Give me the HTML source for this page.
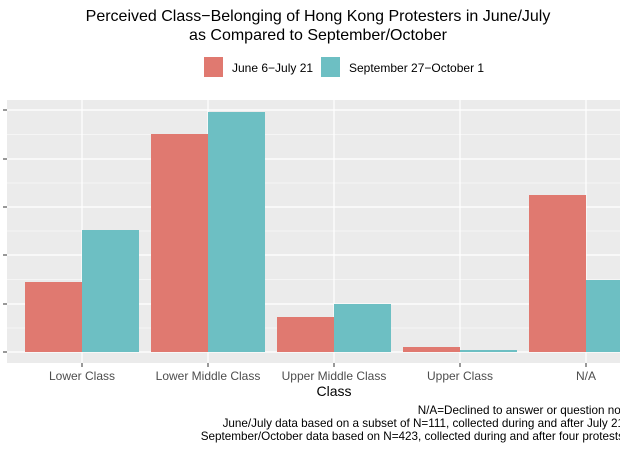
<!DOCTYPE html><html><head><style>body{margin:0;background:#fff}svg text{font-family:"Liberation Sans",Arial,sans-serif}</style></head><body>
<svg width="620" height="450" xmlns="http://www.w3.org/2000/svg">
<rect width="620" height="450" fill="#fff"/>
<text x="318" y="21" font-size="16" text-anchor="middle" fill="#000">Perceived Class−Belonging of Hong Kong Protesters in June/July</text>
<text x="318" y="40" font-size="16" text-anchor="middle" fill="#000">as Compared to September/October</text>
<rect x="204" y="57" width="19" height="20" fill="#e07970"/>
<text x="232" y="72" font-size="12">June 6−July 21</text>
<rect x="321" y="57" width="19" height="20" fill="#6dbfc3"/>
<text x="349" y="72" font-size="12">September 27−October 1</text>
<rect x="7" y="100" width="620" height="263" fill="#ebebeb"/>
<g stroke="#fff" stroke-width="0.6">
<line x1="7" x2="620" y1="134.5" y2="134.5"/><line x1="7" x2="620" y1="183" y2="183"/><line x1="7" x2="620" y1="231" y2="231"/><line x1="7" x2="620" y1="279.5" y2="279.5"/><line x1="7" x2="620" y1="328" y2="328"/>
</g>
<g stroke="#fff" stroke-width="1.2">
<line x1="7" x2="620" y1="110" y2="110"/><line x1="7" x2="620" y1="159" y2="159"/><line x1="7" x2="620" y1="207" y2="207"/><line x1="7" x2="620" y1="255" y2="255"/><line x1="7" x2="620" y1="304" y2="304"/><line x1="7" x2="620" y1="352" y2="352"/>
<line x1="82" x2="82" y1="100" y2="363"/><line x1="208" x2="208" y1="100" y2="363"/><line x1="334" x2="334" y1="100" y2="363"/><line x1="460" x2="460" y1="100" y2="363"/><line x1="586" x2="586" y1="100" y2="363"/>
</g>
<g fill="#e07970">
<rect x="25" y="282" width="57" height="70"/><rect x="151" y="134" width="57" height="218"/><rect x="277" y="317" width="57" height="35"/><rect x="403" y="347" width="57" height="5"/><rect x="529" y="195" width="57" height="157"/>
</g>
<g fill="#6dbfc3">
<rect x="82" y="230" width="57" height="122"/><rect x="208" y="112" width="57" height="240"/><rect x="334" y="304" width="57" height="48"/><rect x="460" y="350" width="57" height="2"/><rect x="586" y="280" width="57" height="72"/>
</g>
<g stroke="#333" stroke-width="1">
<line x1="3" x2="7" y1="110" y2="110"/><line x1="3" x2="7" y1="159" y2="159"/><line x1="3" x2="7" y1="207" y2="207"/><line x1="3" x2="7" y1="255" y2="255"/><line x1="3" x2="7" y1="304" y2="304"/><line x1="3" x2="7" y1="352" y2="352"/>
<line x1="82" x2="82" y1="363" y2="367"/><line x1="208" x2="208" y1="363" y2="367"/><line x1="334" x2="334" y1="363" y2="367"/><line x1="460" x2="460" y1="363" y2="367"/><line x1="586" x2="586" y1="363" y2="367"/>
</g>
<g font-size="12" fill="#4d4d4d" text-anchor="middle">
<text x="82" y="380">Lower Class</text><text x="208" y="380">Lower Middle Class</text><text x="334" y="380">Upper Middle Class</text><text x="460" y="380">Upper Class</text><text x="586" y="380">N/A</text>
</g>
<text x="334" y="396" font-size="14" text-anchor="middle">Class</text>
<g font-size="11.7" text-anchor="end">
<text x="624" y="414">N/A=Declined to answer or question not</text>
<text x="624" y="427">June/July data based on a subset of N=111, collected during and after July 21</text>
<text x="624" y="440">September/October data based on N=423, collected during and after four protests</text>
</g>
</svg>
</body></html>
